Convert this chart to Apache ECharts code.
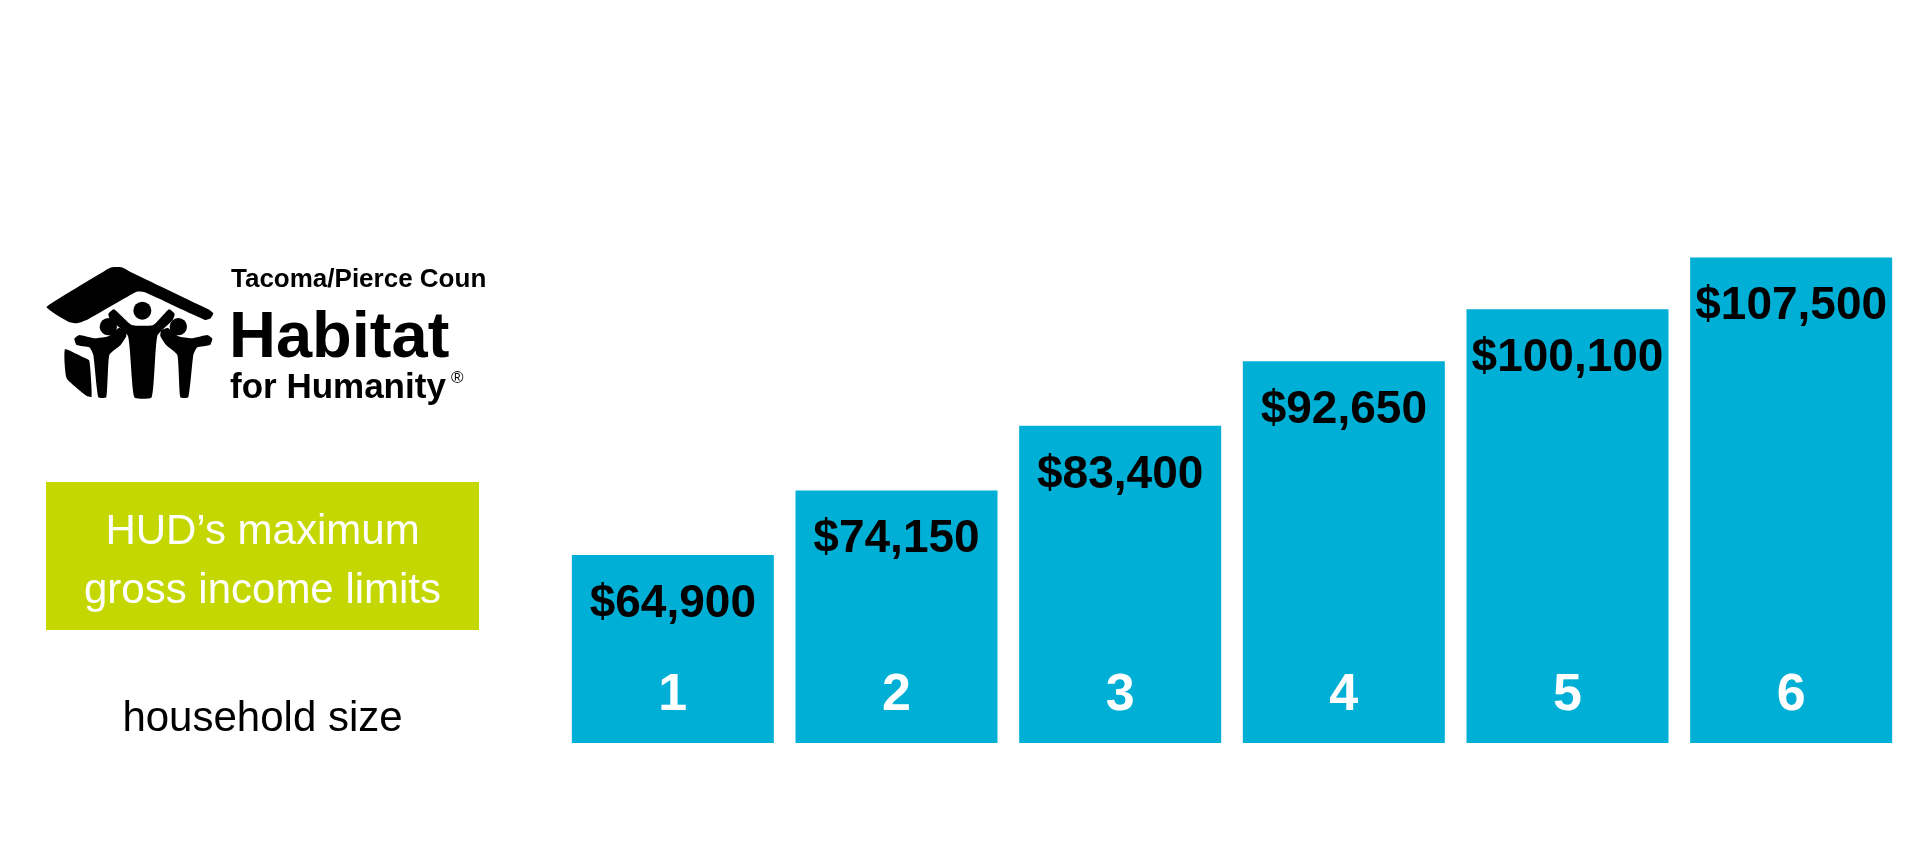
<!DOCTYPE html>
<html>
<head>
<meta charset="utf-8">
<title>HUD maximum gross income limits</title>
<script src="https://cdn.jsdelivr.net/npm/echarts@6/dist/echarts.min.js"></script>
<style>
  html, body { margin: 0; padding: 0; background: #ffffff; }
  #chart { width: 1920px; height: 864px; }
</style>
</head>
<body>
<div id="chart"></div>
<script>
// ---- data ----
const householdSizes = ['1', '2', '3', '4', '5', '6'];
const incomeLimits = [64900, 74150, 83400, 92650, 100100, 107500];
const titleLines = ['HUD\u2019s maximum', 'gross income limits'];
const axisTitle = 'household size';
const logoLines = ['Tacoma/Pierce Coun', 'Habitat', 'for Humanity'];

// ---- logo icon shapes (local icon coordinates, scaled to fit) ----
const roofPts = [[20,140],[195,32],[215,22],[245,22],[270,35],[505,148],[520,160],[512,175],[495,180],[315,97],[290,95],[140,180],[110,190],[85,185],[40,158]];
const wallPts = [[75,268],[130,292],[148,302],[155,410],[140,408],[80,355]];
const midPts = [[205,162],[222,148],[275,195],[340,195],[387,148],[404,162],[398,180],[352,228],[335,412],[283,412],[264,228],[211,180]];
const leftPts = [[103,236],[118,225],[165,235],[205,229],[236,204],[256,211],[259,228],[242,255],[208,285],[199,412],[175,412],[160,285],[148,262],[110,255]];
const rightPts = leftPts.map(p => [620 - p[0], p[1]]);
const heads = [[205,200,26],[307,152,27],[415,200,26]];

const chart = echarts.init(document.getElementById('chart'), null, { renderer: 'canvas' });

const fmt = v => '$' + v.toLocaleString('en-US');

const iconChildren = [roofPts, wallPts, midPts, leftPts, rightPts].map(pts => ({
  type: 'polygon', shape: { points: pts, smooth: 0.15 }, style: { fill: '#000' }
})).concat(heads.map(h => ({
  type: 'circle', shape: { cx: h[0], cy: h[1], r: h[2] }, style: { fill: '#000' }
})));

chart.setOption({
  animation: false,
  backgroundColor: '#ffffff',
  grid: { left: 561, right: 17, top: 240, bottom: 121, containLabel: false },
  xAxis: {
    type: 'category',
    data: householdSizes,
    z: 5,
    axisLine: { show: false },
    axisTick: { show: false },
    axisLabel: {
      inside: true,
      margin: 21,
      color: '#ffffff',
      fontSize: 52,
      fontWeight: 'bold',
      fontFamily: 'Liberation Sans, Arial, sans-serif'
    }
  },
  yAxis: {
    type: 'value',
    min: 38000,
    max: 110000,
    show: false,
    splitLine: { show: false }
  },
  series: [{
    type: 'bar',
    data: incomeLimits,
    barWidth: 202,
    itemStyle: { color: '#00afd6' },
    label: {
      show: true,
      position: 'insideTop',
      distance: 26,
      formatter: p => fmt(p.value),
      color: '#000000',
      fontSize: 46,
      fontWeight: 'bold',
      fontFamily: 'Liberation Sans, Arial, sans-serif'
    }
  }],
  graphic: [
    {
      type: 'group', x: 40, y: 260, scaleX: 1/3, scaleY: 1/3,
      children: iconChildren
    },
    {
      type: 'text', x: 231, y: 280,
      style: { text: logoLines[0], fill: '#000', font: 'bold 26px "Liberation Sans Narrow", "Liberation Sans", sans-serif', verticalAlign: 'middle', align: 'left' }
    },
    {
      type: 'text', x: 229, y: 339,
      style: { text: logoLines[1], fill: '#000', font: 'bold 65px "Liberation Sans", Arial, sans-serif', verticalAlign: 'middle', align: 'left' }
    },
    {
      type: 'text', x: 230, y: 388,
      style: { text: logoLines[2], fill: '#000', font: 'bold 35px "Liberation Sans", Arial, sans-serif', verticalAlign: 'middle', align: 'left' }
    },
    {
      type: 'text', x: 451, y: 378,
      style: { text: '\u00AE', fill: '#000', font: '17px "Liberation Sans", Arial, sans-serif', verticalAlign: 'middle', align: 'left' }
    },
    {
      type: 'rect', shape: { x: 46, y: 482, width: 433, height: 148 },
      style: { fill: '#c4d700' }
    },
    {
      type: 'text', x: 262.5, y: 532,
      style: { text: titleLines[0], fill: '#ffffff', font: '42px "Liberation Sans", Arial, sans-serif', verticalAlign: 'middle', align: 'center' }
    },
    {
      type: 'text', x: 262.5, y: 591,
      style: { text: titleLines[1], fill: '#ffffff', font: '42px "Liberation Sans", Arial, sans-serif', verticalAlign: 'middle', align: 'center' }
    },
    {
      type: 'text', x: 262.5, y: 719,
      style: { text: axisTitle, fill: '#000000', font: '42px "Liberation Sans", Arial, sans-serif', verticalAlign: 'middle', align: 'center' }
    }
  ]
});
</script>
</body>
</html>
